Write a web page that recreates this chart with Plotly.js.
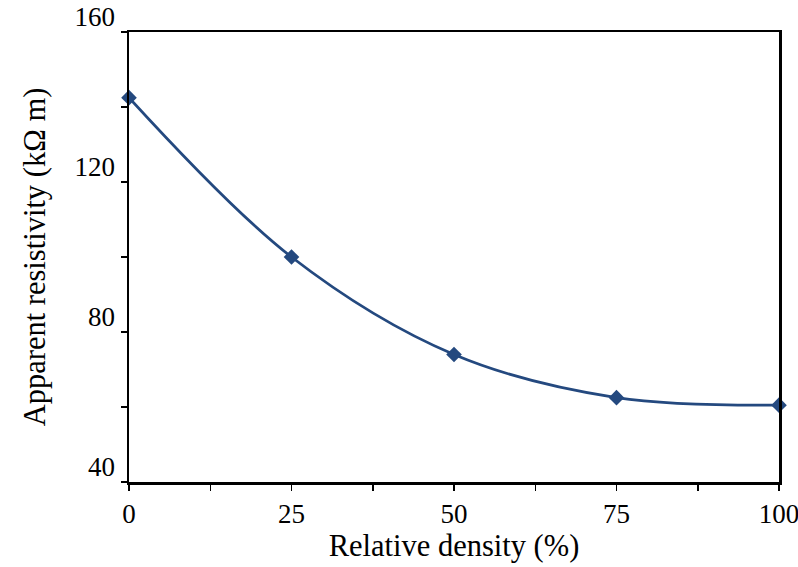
<!DOCTYPE html>
<html>
<head>
<meta charset="utf-8">
<script src="https://cdn.plot.ly/plotly-3.0.1.min.js"></script>
<style>html,body{margin:0;padding:0;background:#fff;}#chart{width:798px;height:567px;}</style>
</head>
<body>
<div id="chart"></div>
<script>
const relativeDensity = [0, 25, 50, 75, 100];
const resistivity = [142.5, 100, 74, 62.5, 60.5];
const yTickVals = [40, 60, 80, 100, 120, 140, 160];
const yTickText = ["40", "", "80", "", "120", "", "160"];
const xTickVals = [0, 12.5, 25, 37.5, 50, 62.5, 75, 87.5, 100];
const xTickText = ["0", "", "25", "", "50", "", "75", "", "100"];

const font = "Liberation Serif, Times New Roman, serif";
Plotly.newPlot('chart', [{
  x: relativeDensity,
  y: resistivity,
  type: 'scatter',
  mode: 'lines+markers',
  line: {color: '#24497f', width: 2.8, shape: 'spline', smoothing: 1},
  marker: {symbol: 'diamond', size: 12, color: '#24497f'},
  cliponaxis: false,
  showlegend: false
}], {
  width: 798, height: 567,
  margin: {l: 129, r: 19, t: 32, b: 85},
  paper_bgcolor: '#fff', plot_bgcolor: '#fff',
  font: {family: font, size: 27, color: '#000'},
  xaxis: {
    range: [0, 100], tickvals: xTickVals, ticktext: xTickText,
    ticks: 'outside', ticklen: 6, tickwidth: 1.5, tickcolor: '#000',
    showline: true, linecolor: '#000', linewidth: 2.5, mirror: true,
    showgrid: false, zeroline: false, ticklabeloverflow: 'allow',
    title: {text: 'Relative density (%)', font: {family: font, size: 30.5}, standoff: 5},
    tickfont: {family: font, size: 27}
  },
  yaxis: {
    range: [40, 160], tickvals: yTickVals, ticktext: yTickText,
    ticks: 'outside', ticklen: 6, tickwidth: 1.5, tickcolor: '#000',
    showline: true, linecolor: '#000', linewidth: 2.5, mirror: true,
    showgrid: false, zeroline: false, ticklabelshift: -15, ticklabeloverflow: 'allow',
    title: {text: 'Apparent resistivity (kΩ m)', font: {family: font, size: 30.5}, standoff: 20},
    tickfont: {family: font, size: 27}
  }
}, {staticPlot: true});
</script>
</body>
</html>
